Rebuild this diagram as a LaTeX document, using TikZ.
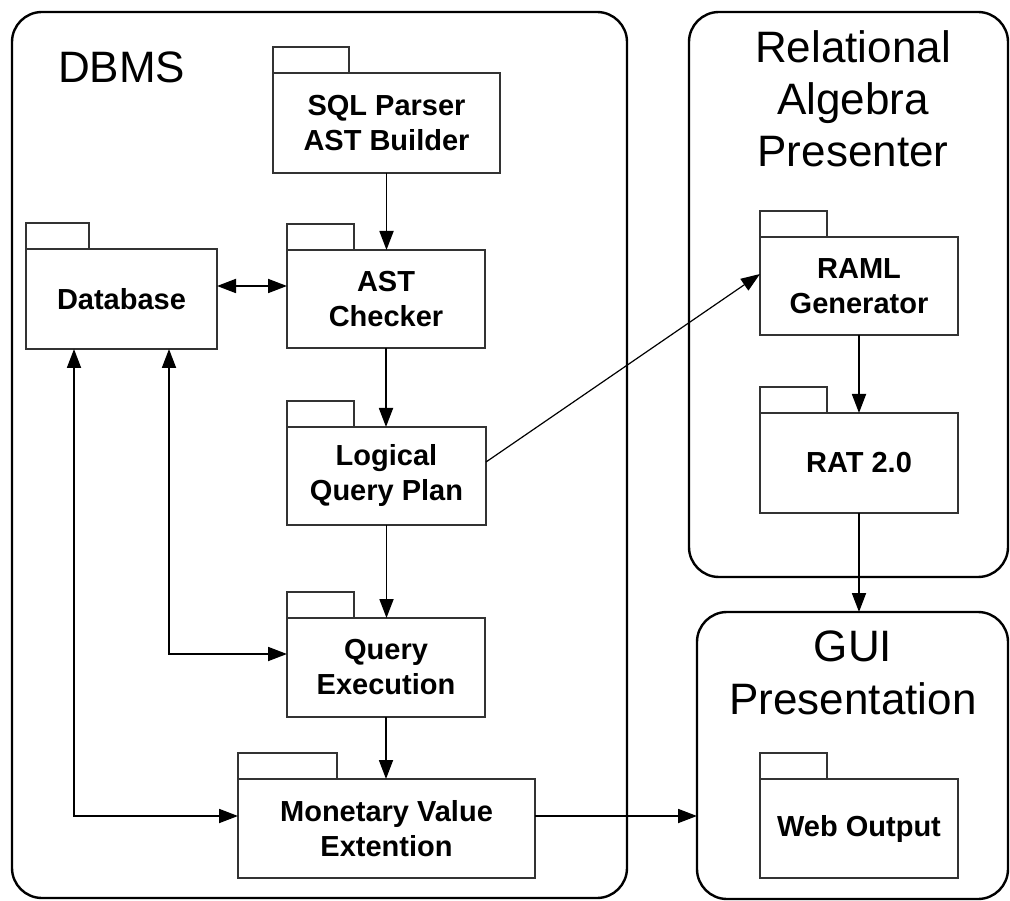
\documentclass[tikz,border=0pt]{standalone}
\usepackage{fontspec}
\setmainfont{Liberation Sans}
\usetikzlibrary{arrows.meta}

\tikzset{
  pkg/.style={draw=black!80, line width=1.6pt, fill=white, inner sep=0pt, outer sep=0pt,
    anchor=north west, align=center, font=\fontsize{29}{35}\selectfont\bfseries},
  pkgtab/.style={draw=black!80, line width=1.6pt, fill=white},
  container/.style={draw=black, line width=2.4pt, rounded corners=30pt, inner sep=0pt,
    outer sep=0pt, anchor=north west},
  title/.style={inner sep=0pt, font=\fontsize{44}{52}\selectfont},
  tip/.tip={Triangle[length=19pt,width=14pt]},
  link/.style={line width=1.8pt, -tip},
  dlink/.style={line width=1.8pt, tip-tip},
}

% UML package: body node plus a tab on its upper left corner
% #1 name, #2 x, #3 y (top left of body), #4 width, #5 height, #6 tab width, #7 label
\newcommand\umlpackage[7]{%
  \node[pkg, minimum width=#4, minimum height=#5] (#1) at (#2,#3) {#7};
  \draw[pkgtab] (#1.north west) rectangle ++(#6,-26);
}

\begin{document}
\begin{tikzpicture}[x=1pt,y=-1pt]
\useasboundingbox (0,0) rectangle (1010,901);

% subsystem containers
\node[container, minimum width=615, minimum height=886] (dbms) at (12,12) {};
\node[container, minimum width=319, minimum height=565] (rap) at (689,12) {};
\node[container, minimum width=311, minimum height=287] (gui) at (697,612) {};

% container titles
\node[title, anchor=base west] (dbmsTitle) at (58,83) {DBMS};
\node[title, anchor=base] (rapTitleA) at (853,63) {Relational};
\node[title, anchor=base] (rapTitleB) at (853,115) {Algebra};
\node[title, anchor=base] (rapTitleC) at (853,167) {Presenter};
\node[title, anchor=base] (guiTitleA) at (853,661) {GUI};
\node[title, anchor=base] (guiTitleB) at (853,714) {Presentation};

% packages
\umlpackage{sql}{273}{73}{227}{100}{76}{SQL Parser\\AST Builder}
\umlpackage{ast}{287}{250}{198}{98}{67}{AST\\Checker}
\umlpackage{db}{26}{249}{191}{100}{63}{Database}
\umlpackage{lqp}{287}{427}{199}{98}{67}{Logical\\Query Plan}
\umlpackage{qe}{287}{618}{198}{99}{67}{Query\\Execution}
\umlpackage{mon}{238}{779}{297}{99}{99}{Monetary Value\\Extention}
\umlpackage{raml}{760}{237}{198}{98}{67}{RAML\\Generator}
\umlpackage{rat}{760}{413}{198}{100}{67}{RAT 2.0}
\umlpackage{web}{760}{779}{198}{99}{67}{Web Output}

% connectors
\draw[link] (sql.south) -- (sql.south |- ast.north);
\draw[dlink] ([yshift=13pt]db.east) -- ([yshift=13pt]ast.west);
\draw[link] (ast.south) -- (ast.south |- lqp.north);
\draw[link] (lqp.south) -- (lqp.south |- qe.north);
\draw[link] (qe.south) -- (qe.south |- mon.north);
\draw[link, line width=1.2pt] ([yshift=14pt]lqp.east) -- ([yshift=12pt]raml.west);
\draw[link] (raml.south) -- (raml.south |- rat.north);
\draw[link] (rat.south) -- (rat.south |- gui.north);
\draw[link] ([yshift=12.5pt]mon.east) -- ([yshift=12.5pt]mon.east -| gui.west);
\draw[dlink] ([xshift=-47.5pt]db.south) |- ([yshift=12.5pt]mon.west);
\draw[dlink] ([xshift=47.5pt]db.south) |- ([yshift=13.5pt]qe.west);
\end{tikzpicture}
\end{document}
